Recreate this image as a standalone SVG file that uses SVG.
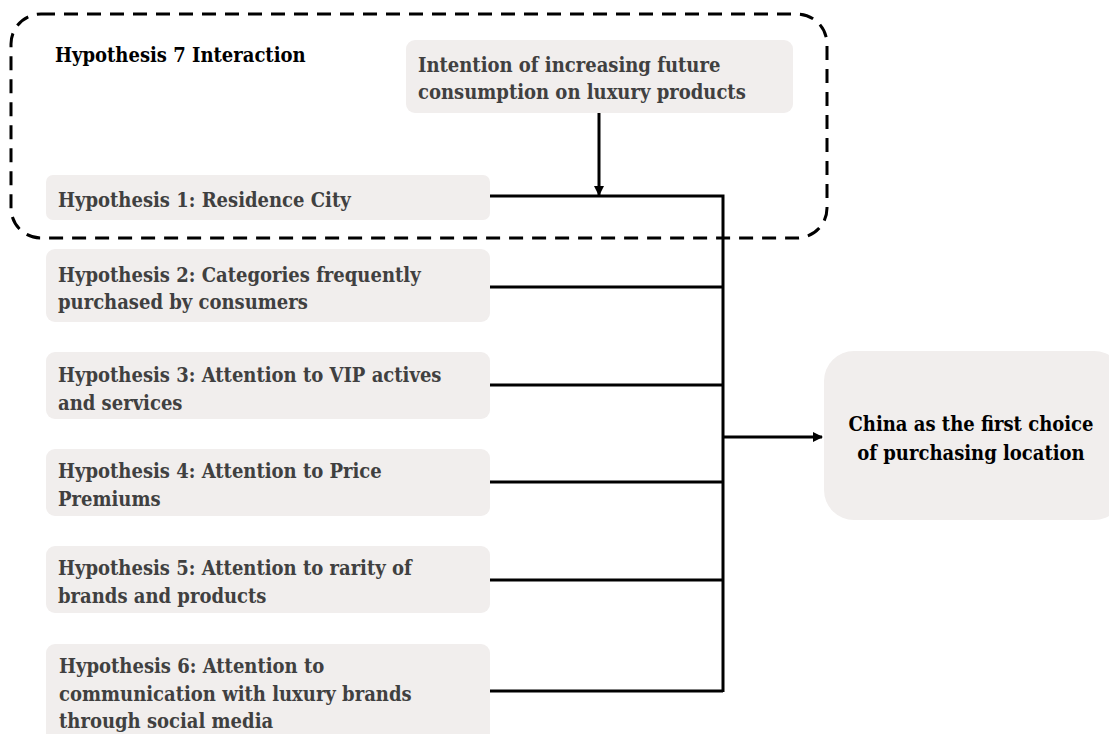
<svg xmlns="http://www.w3.org/2000/svg" width="1109" height="734" viewBox="0 0 1109 734">
<defs>
<style>
.box{fill:#f1eeed;}
.t{font-family:"DejaVu Serif Condensed","DejaVu Serif","Liberation Serif",serif;font-weight:bold;font-size:20px;fill:#404040;}
.k{fill:#000;}
.c{fill:none;stroke:#000;stroke-width:3;}
</style>
<marker id="ah" markerWidth="10" markerHeight="10" refX="9" refY="5" orient="auto" markerUnits="userSpaceOnUse"><path d="M0,0 L10,5 L0,10 Z" fill="#000"/></marker>
</defs>
<rect width="1109" height="734" fill="#fff"/>
<g id="group7">
<rect x="11" y="14" width="816" height="224" rx="30" ry="30" fill="none" stroke="#000" stroke-width="3" stroke-dasharray="14 9"/>
<text class="t k" x="55" y="62">Hypothesis 7 Interaction</text>
</g>
<g id="intention">
<rect class="box" x="406" y="40" width="387" height="73" rx="9"/>
<text class="t" x="418" y="72">Intention of increasing future</text>
<text class="t" x="418" y="99">consumption on luxury products</text>
</g>
<g id="h1">
<rect class="box" x="46" y="175" width="444" height="45" rx="7"/>
<text class="t" x="58" y="207">Hypothesis 1: Residence City</text>
</g>
<g id="h2">
<rect class="box" x="46" y="249" width="444" height="73" rx="9"/>
<text class="t" x="58" y="282">Hypothesis 2: Categories frequently</text>
<text class="t" x="58" y="309">purchased by consumers</text>
</g>
<g id="h3">
<rect class="box" x="46" y="352" width="444" height="67" rx="9"/>
<text class="t" x="58" y="382">Hypothesis 3: Attention to VIP actives</text>
<text class="t" x="58" y="410">and services</text>
</g>
<g id="h4">
<rect class="box" x="46" y="449" width="444" height="67" rx="9"/>
<text class="t" x="58" y="478">Hypothesis 4: Attention to Price</text>
<text class="t" x="58" y="506">Premiums</text>
</g>
<g id="h5">
<rect class="box" x="46" y="546" width="444" height="67" rx="9"/>
<text class="t" x="58" y="575">Hypothesis 5: Attention to rarity of</text>
<text class="t" x="58" y="603">brands and products</text>
</g>
<g id="h6">
<rect class="box" x="46" y="644" width="444" height="100" rx="9"/>
<text class="t" x="59" y="673">Hypothesis 6: Attention to</text>
<text class="t" x="59" y="701">communication with luxury brands</text>
<text class="t" x="59" y="728">through social media</text>
</g>
<g id="outcome">
<rect class="box" x="824" y="351" width="300" height="169" rx="30"/>
<text class="t k" x="971" y="431" text-anchor="middle">China as the first choice</text>
<text class="t k" x="971" y="460" text-anchor="middle">of purchasing location</text>
</g>
<g id="connectors">
<path class="c" d="M490,196 H723 V692"/>
<path class="c" d="M490,287 H723"/>
<path class="c" d="M490,385 H723"/>
<path class="c" d="M490,482 H723"/>
<path class="c" d="M490,580 H723"/>
<path class="c" d="M490,691 H723"/>
<path class="c" d="M723,437 H822" marker-end="url(#ah)"/>
<path class="c" d="M599,113 V195" marker-end="url(#ah)"/>
</g>
</svg>
